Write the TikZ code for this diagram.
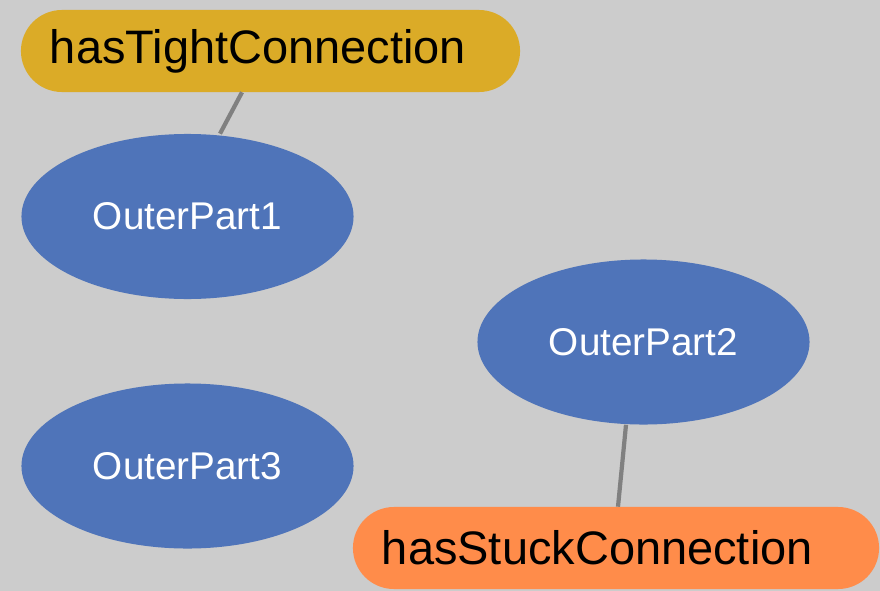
\documentclass[tikz,border=0pt]{standalone}
\usepackage{fontspec}
\setmainfont{Liberation Sans}
\usetikzlibrary{shapes.geometric}

\definecolor{bggrey}{HTML}{CCCCCC}
\definecolor{partblue}{HTML}{4F74B9}
\definecolor{tightgold}{HTML}{DBAB27}
\definecolor{stuckorange}{HTML}{FF8C4A}
\definecolor{linkgrey}{HTML}{808080}

\tikzset{
  part/.style={ellipse, fill=partblue, text=white, inner sep=0pt,
    minimum width=8.3cm, minimum height=4.125cm,
    font=\fontsize{27.5}{30}\selectfont},
  relation/.style={rounded corners=1.025cm, minimum height=2.05cm,
    inner xsep=0.725cm, inner ysep=0pt, align=left, text=black,
    font=\fontsize{33.4}{36}\selectfont},
  link/.style={draw=linkgrey, line width=3pt}
}

\begin{document}
\begin{tikzpicture}[x=0.025cm, y=-0.025cm]
		\useasboundingbox (0, 0) rectangle (880, 591) ;
\fill[bggrey] (0, 0) rectangle (880, 591) ; % background 
\node[relation, fill=tightgold, text width=11.025cm] (tight) at (270.5, 51) {hasTightConnection}; % tight 
\node[part] (part1) at (187.5, 216.5) {OuterPart1}; % part1 
\node[part] (part2) at (643.5, 342) {OuterPart2}; % part2 
\node[part] (part3) at (187.5, 466) {OuterPart3}; % part3 
\node[relation, fill=stuckorange, text width=11.7cm] (stuck) at (616, 548) {hasStuckConnection}; % stuck 
\draw[link] (tight.south -| 242, 0) -- (part1.north -| 220, 0) ; % tight-part1 
\draw[link] (part2.south -| 626, 0) -- (stuck.north -| 618, 0) ; % part2-stuck 

		\end{tikzpicture}
\end{document}
